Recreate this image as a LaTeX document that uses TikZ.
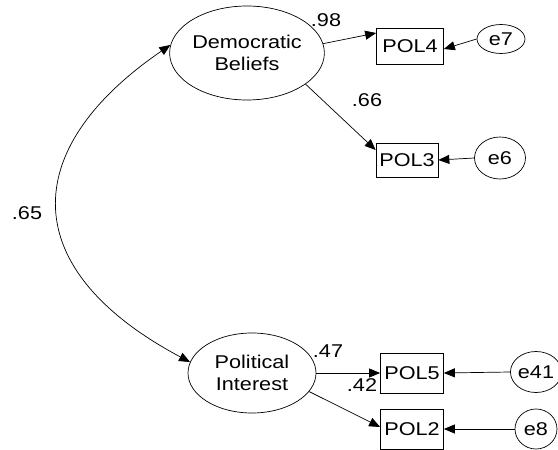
\documentclass[tikz,border=0pt]{standalone}
\usepackage{fontspec}
\setmainfont{Liberation Sans}
\usetikzlibrary{positioning,shapes.geometric,arrows.meta}
\newcommand\wtxt[1]{\scalebox{1.17}[1]{#1}}

\begin{document}
\begin{tikzpicture}[x=1pt,y=-1pt,>={Triangle[length=11pt,width=9pt]},line width=0.7pt,
	font=\fontsize{18.5}{21.5}\selectfont,
	latent/.style={ellipse,draw,inner sep=0pt,align=center},
	obs/.style={rectangle,draw,inner sep=0pt},
	err/.style={ellipse,draw,inner sep=0pt}]
	\useasboundingbox (0,0) rectangle (558,450);

	\node[latent,minimum width=154pt,minimum height=94pt]	(dem)	at	(247,53)	{\wtxt{Democratic}\\\wtxt{Beliefs}};
	\node[latent,minimum width=128pt,minimum height=80pt]	(pol)	at	(252,373)	{\wtxt{Political}\\\wtxt{Interest}};

	\node[obs,minimum width=67pt,minimum height=36pt]	(pol4)	at	(410,46)	{\wtxt{POL4}};
	\node[obs,minimum width=62pt,minimum height=34pt]	(pol3)	at	(407,160)	{\wtxt{POL3}};
	\node[obs,minimum width=63pt,minimum height=40pt]	(pol5)	at	(412,373)	{\wtxt{POL5}};
	\node[obs,minimum width=63pt,minimum height=40pt]	(pol2)	at	(412,429)	{\wtxt{POL2}};

	\node[err,minimum width=48pt,minimum height=29pt]	(e7)	at	(501,39)	{\wtxt{e7}};
	\node[err,minimum width=51pt,minimum height=42pt]	(e6)	at	(500,158)	{\wtxt{e6}};
	\node[err,minimum width=44pt,minimum height=41pt]	(e41)	at	(536,372)	{\wtxt{e41}};
	\node[err,minimum width=42pt,minimum height=40pt]	(e8)	at	(536,429)	{\wtxt{e8}};

	\node	(c65)	at	(27,213)	{\wtxt{.65}};
	\node	(c98)	at	(326,20)	{\wtxt{.98}};
	\node	(c66)	at	(367,100)	{\wtxt{.66}};
	\node	(c47)	at	(328,351)	{\wtxt{.47}};
	\node	(c42)	at	(362,385)	{\wtxt{.42}};

	\draw[<->]	(dem.174)	.. controls (17,150) and (17,270) ..	(pol.170);

	\draw[->]	(dem.7)		--	([yshift=13pt]pol4.west);
	\draw[->]	(dem.332)	--	([yshift=10pt]pol3.west);
	\draw[->]	(pol.east)	--	(pol5.west);
	\draw[->]	(pol.342)	--	([yshift=2pt]pol2.west);

	\draw[->]	(e7.west)	--	([yshift=-3pt]pol4.east);
	\draw[->]	(e6.west)	--	(pol3.east);
	\draw[->]	(e41.west)	--	(pol5.east);
	\draw[->]	(e8.west)	--	(pol2.east);
\end{tikzpicture}
\end{document}
